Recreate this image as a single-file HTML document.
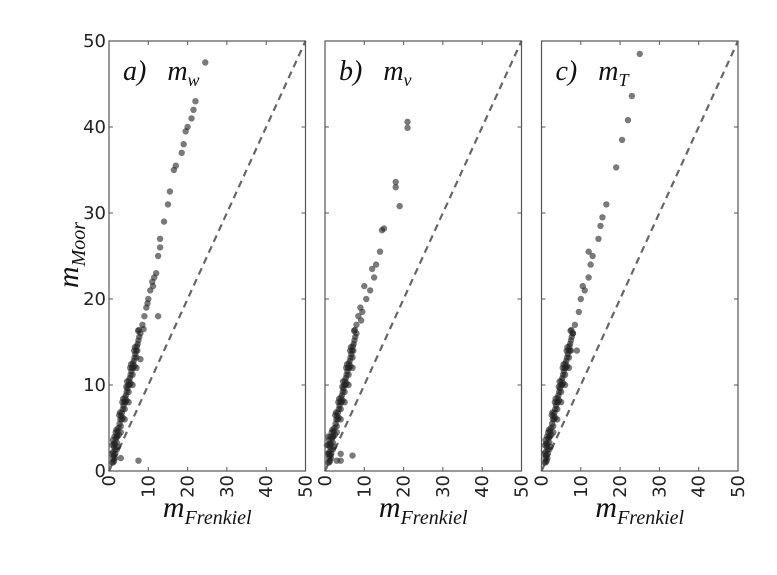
<!DOCTYPE html>
<html><head><meta charset="utf-8"><style>
body{margin:0;background:#fff;}
svg{display:block;}
.tick{font-family:"DejaVu Sans","Liberation Sans",sans-serif;font-size:18px;fill:#222;}
.lab{font-family:"Liberation Serif","DejaVu Serif",serif;font-style:italic;fill:#111;}
</style></head><body>
<svg id="chart" width="777" height="575" viewBox="0 0 777 575" xmlns="http://www.w3.org/2000/svg"></svg>
<script>
const xTicks=[0,10,20,30,40,50];
const yTicks=[0,10,20,30,40,50];
const panelLetters=["a)","b)","c)"];
const panelSubs=["w","v","T"];
const denseX=[0.8,1,1,1.2,1.3,1.5,1.6,1.8,2,2,2.2,2.4,2.5,2.7,2.9,3,3.1,3.3,3.5,3.5,3.7,3.9,4,4.1,4.3,4.5,4.5,4.7,4.9,5,5.1,5.3,5.5,5.5,5.7,5.9,6,6.1,6.3,6.5,6.5,6.7,6.9,7,7.1,7.3,7.5,7.7,8,1.5,2,0.9,1.1,2.3,3,4,5,6,7,1.4,1.7,2.6,3.4,4.4,5.4,6.4,7.4,1.2,1.9,2.8,3.6,4.6,5.6,6.6,7.6,2.1,3.2,4.2,5.2,6.2,7.2,1.0,1.3,0.7,1.6];
const denseY=[1,1.5,2.2,1.8,2.8,3.2,2.5,3.8,4,3.3,4.6,5,4.2,5.5,6,5.2,6.4,6.8,7.2,6.2,7.6,8,7.2,8.5,8.8,9.2,8.2,9.6,10,9.2,10.5,10.8,11.2,10.2,11.6,12,11.2,12.5,12.8,13.2,12.2,13.6,14,13.2,14.5,14.8,15.2,15.6,16,1.5,2.5,3,1,2.8,4.5,6,8,10,12,4,4.5,6.5,8,9.8,12,14,16.3,3.2,4.8,6.8,8.4,10.4,12.4,14.4,16.4,4.0,6.0,8.0,10.0,12.0,14.0,3.6,1.2,2.0,2.0];
const aX=[8.5,9,9.5,10,10.5,11,11.5,12,12.5,13,13,14,15,15.5,16.5,17,18.5,19,19.5,20,21,21.5,22,24.5,12.5,8,7.5,3,8.8,9.8,11.2];
const aY=[17,18,19,20,21,22,22.5,23,25,26,27,29,31,32.5,35,35.5,37,38,39.5,40,41,42,43,47.5,18,13,1.2,1.5,16.5,19.5,21.5];
const bX=[21,21,18,18,19,14.5,15,14,13,12.5,11.5,10.5,9,9.5,8,8.5,3,4,7,4,0.5,0.8,1,9.2,10,12];
const bY=[40.6,39.9,33.6,33,30.8,28,28.2,25.5,24,22.5,21,20,19,18.5,17,18,1.2,1.2,1.8,2,3,4,2,17.5,21.5,23.5];
const cX=[25,23,22,20.5,19,16.5,15.5,15,14.5,13,12.5,12,11,10,9.5,8.5,9,7.5,12,10.5,8];
const cY=[48.5,43.6,40.8,38.5,35.3,31,29.5,28.5,27,25,24,22.5,21,20,18.5,17,14,14,25.5,21.5,16];
const panelsX=[aX,bX,cX];
const panelsY=[aY,bY,cY];

const NS="http://www.w3.org/2000/svg";
const svg=document.getElementById('chart');
function mk(t,attrs,parent){const e=document.createElementNS(NS,t);for(const k in attrs)e.setAttribute(k,attrs[k]);(parent||svg).appendChild(e);return e;}
const lefts=[109,325,541.5];
const W=196.5, topY=41, bottomY=471;
for(let p=0;p<3;p++){
  const L=lefts[p];
  const sx=v=>L+v/50*W;
  const sy=v=>bottomY-v/50*(bottomY-topY);
  const g=mk('g',{});
  
  
  const d=mk('line',{x1:sx(0),y1:sy(0),x2:sx(50),y2:sy(50),stroke:'#666','stroke-width':2.2,'stroke-dasharray':'7,5'},g);
  
  
  const xs=denseX.concat(panelsX[p]), ys=denseY.concat(panelsY[p]);
  for(let i=0;i<xs.length;i++){
    const c=mk('circle',{cx:sx(xs[i]),cy:sy(ys[i]),r:3.2,fill:'#222','fill-opacity':0.6},g);
    
    
  }
  const fr=mk('rect',{x:L,y:topY,width:W,height:bottomY-topY,fill:'none',stroke:'#555','stroke-width':1.2},g);
  
  
  xTicks.forEach(t=>{
    mk('line',{x1:sx(t),y1:bottomY,x2:sx(t),y2:bottomY-4,stroke:'#555'},g);
    mk('line',{x1:sx(t),y1:topY,x2:sx(t),y2:topY+4,stroke:'#555'},g);
    const tx=mk('text',{class:'tick',x:0,y:0,transform:`translate(${sx(t)+6},${bottomY+4}) rotate(-90)`,'text-anchor':'end'},g);
    tx.textContent=t;
    
    
  });
  yTicks.forEach(t=>{
    mk('line',{x1:L,y1:sy(t),x2:L+4,y2:sy(t),stroke:'#555'},g);
    mk('line',{x1:L+W,y1:sy(t),x2:L+W-4,y2:sy(t),stroke:'#555'},g);
    if(p===0){
      const ty=mk('text',{class:'tick',x:L-3,y:sy(t)+6,'text-anchor':'end'},g);
      ty.textContent=t;
      
      
    }
  });
  const title=mk('text',{class:'lab',x:L+14,y:80,'font-size':28},g);
  title.innerHTML=panelLetters[p]+'\u2002 m<tspan font-size="18" dy="6">'+panelSubs[p]+'</tspan>';
  
  
  const xl=mk('text',{class:'lab',x:L+W/2,y:517,'text-anchor':'middle','font-size':30},g);
  xl.innerHTML='m<tspan font-size="20" dy="7">Frenkiel</tspan>';
  
  
}
const yl=mk('text',{class:'lab',x:0,y:0,transform:'translate(78,255) rotate(-90)','font-size':30,'text-anchor':'middle'});
yl.innerHTML='m<tspan font-size="20" dy="7">Moor</tspan>';


</script>
</body></html>
